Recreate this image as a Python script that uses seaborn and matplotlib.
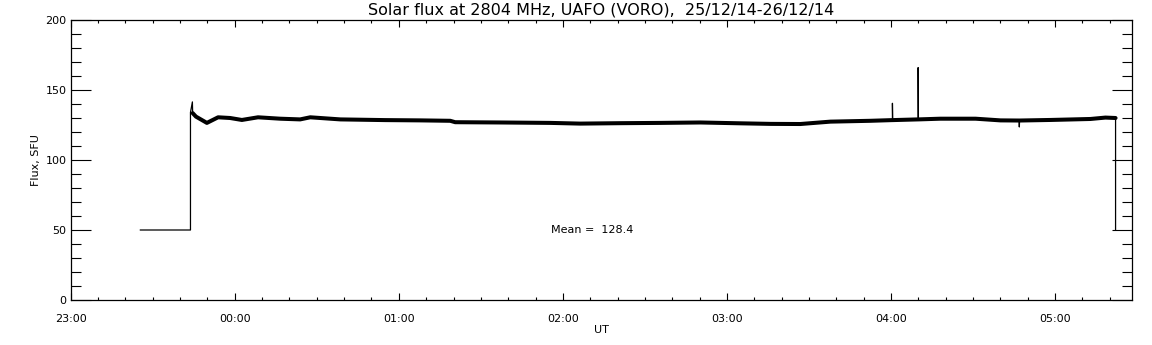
import numpy as np
import pandas as pd
import matplotlib
matplotlib.use("Agg")
import matplotlib.pyplot as plt
import seaborn as sns
from matplotlib.ticker import MultipleLocator, FuncFormatter

# time in minutes since 23:00 UT, flux in SFU
minutes = [25.4, 43.8, 43.8, 44.5, 44.6, 45.8, 49.8, 53.9, 58.3, 62.6, 68.5,
           76.6, 83.9, 87.6, 98.6, 115.0, 127.8, 138.8, 140.6, 157.0, 175.4,
           186.3, 201.0, 215.6, 230.3, 245.0, 256.0, 266.8, 277.8, 292.4,
           300.5, 300.5, 300.6, 309.9, 309.9, 310.0, 318.0, 330.9, 340.0,
           346.8, 346.9, 347.0, 358.3, 372.9, 378.4, 382.1, 382.1]
flux = [50.0, 50.0, 134.0, 141.5, 133.5, 131.0, 126.5, 130.5, 130.0, 128.6, 130.5,
        129.5, 129.0, 130.5, 129.0, 128.5, 128.3, 128.0, 127.0, 126.8, 126.5,
        126.0, 126.3, 126.5, 126.8, 126.2, 125.8, 125.7, 127.4, 128.0,
        128.5, 140.5, 128.5, 129.0, 166.0, 129.0, 129.5, 129.5, 128.3,
        128.2, 123.6, 128.2, 128.6, 129.3, 130.3, 130.0, 50.0]

# samples that are single-point spikes (drawn thin only)
spikes = {31, 34, 40}
# indices of the noisy (thick) part of the record
band_start, band_end = 4, 45

mean_flux = 128.4
title = "Solar flux at 2804 MHz, UAFO (VORO),  25/12/14-26/12/14"

df = pd.DataFrame({"t": minutes, "flux": flux})
keep = [i for i in range(len(minutes)) if band_start <= i <= band_end and i not in spikes]
band = df.iloc[keep]

sns.set_style("white")
plt.rcParams['font.family'] = ['DejaVu Sans']
plt.rcParams['text.color'] = 'black'
plt.rcParams['axes.labelcolor'] = 'black'
plt.rcParams['xtick.color'] = 'black'
plt.rcParams['ytick.color'] = 'black'

fig = plt.figure(figsize=(11.52, 3.45), dpi=100)
ax = fig.add_axes([70.7 / 1152, 1 - 300 / 345, (1131.7 - 70.7) / 1152, 280 / 345])

sns.lineplot(data=df, x="t", y="flux", estimator=None, sort=False,
             color="black", linewidth=0.9, ax=ax)
sns.lineplot(data=band, x="t", y="flux", estimator=None, sort=False,
             color="black", linewidth=2.9, ax=ax)

ax.set_xlim(0, 388)
ax.set_ylim(0, 200)

def fmt_time(v, pos):
    h = (23 + int(round(v)) // 60) % 24
    m = int(round(v)) % 60
    return f"{h:02d}:{m:02d}"

ax.xaxis.set_major_locator(MultipleLocator(60))
ax.xaxis.set_minor_locator(MultipleLocator(10))
ax.xaxis.set_major_formatter(FuncFormatter(fmt_time))
ax.yaxis.set_major_locator(MultipleLocator(50))
ax.yaxis.set_minor_locator(MultipleLocator(10))

ax.tick_params(axis="x", which="major", direction="in", length=5, width=0.8,
               top=True, bottom=True, labelsize=8, pad=10)
ax.tick_params(axis="x", which="minor", direction="in", length=2.5, width=0.8,
               top=True, bottom=True)
ax.tick_params(axis="y", which="major", direction="in", length=14.4, width=0.8,
               left=True, right=True, labelsize=8, pad=3)
ax.tick_params(axis="y", which="minor", direction="in", length=7.2, width=0.8,
               left=True, right=True)

for s in ax.spines.values():
    s.set_color("black")
    s.set_linewidth(0.9)

ax.set_xlabel("UT", fontsize=8, labelpad=1)
ax.set_ylabel("Flux, SFU", fontsize=8, labelpad=3)
ax.set_title(title, fontsize=11.5, pad=4)

ax.text(175.5, 50, f"Mean =  {mean_flux}", fontsize=8, ha="left", va="center")

fig.savefig("out.png", dpi=100, facecolor="white")
